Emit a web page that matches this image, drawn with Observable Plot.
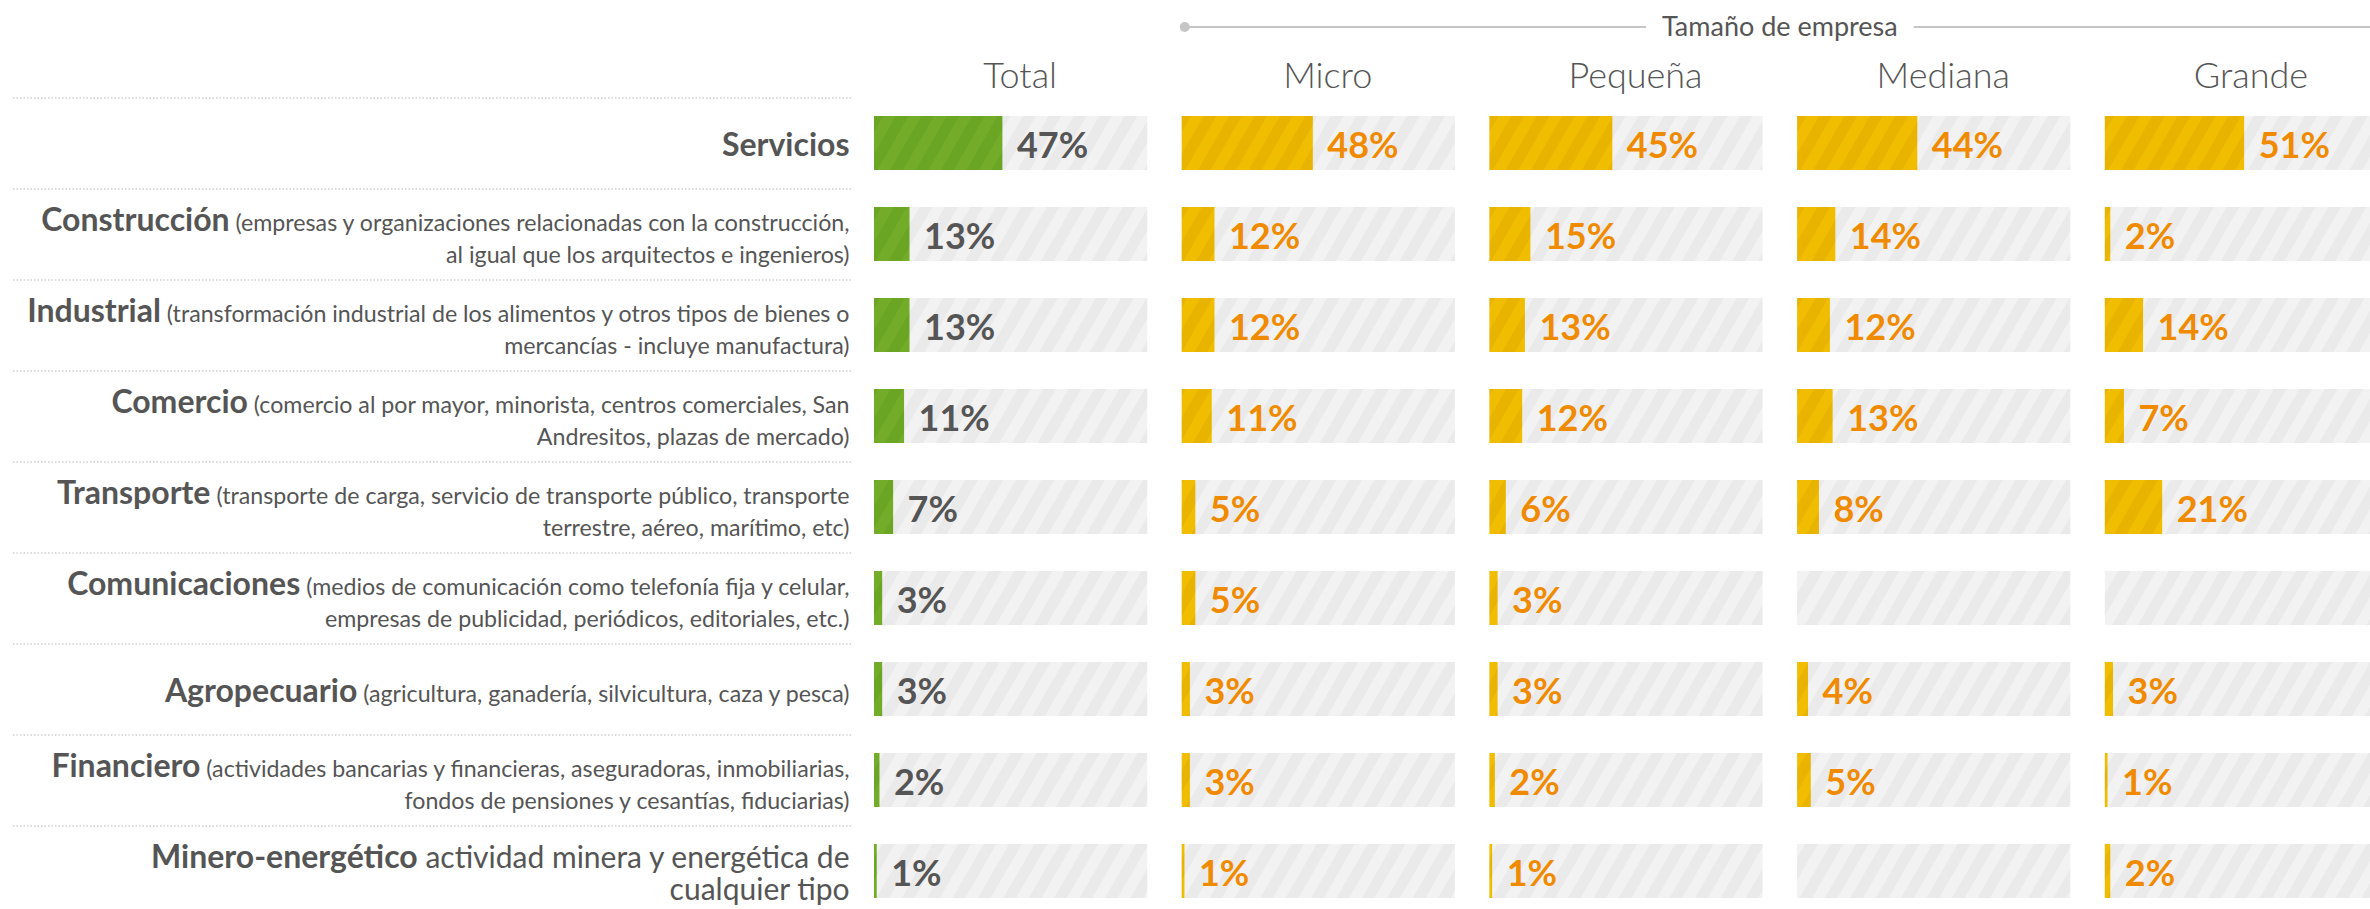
<!DOCTYPE html>
<html><head><meta charset="utf-8">
<script src="https://cdn.jsdelivr.net/npm/d3@7"></script>
<script src="https://cdn.jsdelivr.net/npm/@observablehq/plot@0.6"></script>
<style>
html,body{margin:0;padding:0;background:#fff;overflow:hidden;}
#wrap{position:relative;width:2370px;height:909px;overflow:hidden;font-family:Lato,sans-serif;}
#left{position:absolute;left:0;top:0;width:874px;}
#right{position:absolute;left:874px;top:0;width:1504px;}
#left svg, #right svg{max-width:none;}
svg{font-family:Lato,sans-serif;}
</style></head><body><div id="wrap"><div id="left"></div><div id="right"></div></div>
<script>
const categories = ["Servicios", "Construcción", "Industrial", "Comercio", "Transporte", "Comunicaciones", "Agropecuario", "Financiero", "Minero-energético"];
const descLine1 = [
  "",
  "(empresas y organizaciones relacionadas con la construcción,",
  "(transformación industrial de los alimentos y otros tipos de bienes o",
  "(comercio al por mayor, minorista, centros comerciales, San",
  "(transporte de carga, servicio de transporte público, transporte",
  "(medios de comunicación como telefonía fija y celular,",
  "(agricultura, ganadería, silvicultura, caza y pesca)",
  "(actividades bancarias y financieras, aseguradoras, inmobiliarias,",
  "actividad minera y energética de"
];
const descLine2 = [
  "",
  "al igual que los arquitectos e ingenieros)",
  "mercancías - incluye manufactura)",
  "Andresitos, plazas de mercado)",
  "terrestre, aéreo, marítimo, etc)",
  "empresas de publicidad, periódicos, editoriales, etc.)",
  "",
  "fondos de pensiones y cesantías, fiduciarias)",
  "cualquier tipo"
];
const columns = ["Total", "Micro", "Pequeña", "Mediana", "Grande"];
const totalValues   = [47, 13, 13, 11, 7, 3, 3, 2, 1];
const microValues   = [48, 12, 12, 11, 5, 5, 3, 3, 1];
const pequenaValues = [45, 15, 13, 12, 6, 3, 3, 2, 1];
const medianaValues = [44, 14, 12, 13, 8, null, 4, 5, null];
const grandeValues  = [51, 2, 14, 7, 21, null, 3, 1, 2];
const groupLabel = "Tamaño de empresa";

const seriesByColumn = [totalValues, microValues, pequenaValues, medianaValues, grandeValues];
const table = columns.flatMap((col, j) => categories.map((cat, i) => ({col, cat, value: seriesByColumn[j][i]})));
const present = table.filter(d => d.value != null);
const rows = categories.map((c, i) => ({cat: c, d1: descLine1[i], d2: descLine2[i]}));

const H = 916, TOP = 97;
const yOpts = () => ({domain: categories, paddingInner: 0.4066, paddingOuter: 0.2033, axis: null});
const GRAY = "#555555", ORANGE = "#f08a00";

// Left label panel
const left = Plot.plot({
  width: 874, height: H, marginTop: TOP, marginBottom: 0, marginLeft: 13, marginRight: 21,
  y: yOpts(),
  marks: [
    Plot.ruleY(categories, {y: d => d, dy: -45.5, stroke: "#cfcfcf", strokeWidth: 1.5, strokeDasharray: "1.5 2"}),
    Plot.text(rows, {
      y: "cat",
      text: d => [d.cat + (d.d1 ? " " + d.d1 : ""), d.d2].filter(Boolean).join("\n"),
      frameAnchor: "right", textAnchor: "end", lineAnchor: "middle", lineHeight: 1.38,
      fontSize: 23.2, fill: GRAY, dx: -4, dy: 2
    })
  ]
});
document.getElementById("left").append(left);
d3.select(left).selectAll('g[aria-label="text"] text').each(function (i) {
  const r = rows[i];
  const big = r.d1 && !r.d1.startsWith("(");
  const lines = this.querySelectorAll(":scope > tspan");
  const first = lines.length ? lines[0] : this;
  first.textContent = "";
  const s = d3.select(first);
  s.append("tspan").attr("font-weight", 700).attr("font-size", 32).text(r.cat);
  if (r.d1) s.append("tspan").attr("font-size", big ? 30 : 23.2).text(" " + r.d1);
  if (big && lines.length > 1) {
    const l2 = lines[1];
    const t = l2.textContent;
    l2.textContent = "";
    d3.select(l2).append("tspan").attr("font-size", 30).text(t);
  }
});

// Bars panel
const right = Plot.plot({
  width: 1504, height: H, marginTop: TOP, marginBottom: 0, marginLeft: 0, marginRight: 0,
  fx: {domain: columns, paddingInner: 0.1122, paddingOuter: 0, round: false, axis: null},
  x: {domain: [0, 100], axis: null},
  y: yOpts(),
  marks: [
    Plot.barX(table, {fx: "col", y: "cat", x1: d => 0, x2: d => 100, fill: "url(#st-gray)"}),
    Plot.barX(present.filter(d => d.col === "Total"), {fx: "col", y: "cat", x1: d => 0, x2: "value", fill: "url(#st-green)"}),
    Plot.barX(present.filter(d => d.col !== "Total"), {fx: "col", y: "cat", x1: d => 0, x2: "value", fill: "url(#st-yellow)"}),
    Plot.text(present.filter(d => d.col === "Total"), {fx: "col", y: "cat", x: "value", text: d => d.value + "%", dx: 14, dy: 3, textAnchor: "start", fontSize: 36, fontWeight: 700, fill: GRAY}),
    Plot.text(present.filter(d => d.col !== "Total"), {fx: "col", y: "cat", x: "value", text: d => d.value + "%", dx: 14, dy: 3, textAnchor: "start", fontSize: 36, fontWeight: 700, fill: ORANGE}),
    Plot.text(columns, {fx: d => d, text: d => d, frameAnchor: "top", lineAnchor: "bottom", dy: -10, dx: 9, fontSize: 36, fontWeight: 300, fill: GRAY})
  ]
});
document.getElementById("right").append(right);

// stripe patterns
const defs = d3.select(right).insert("defs", ":first-child");
function stripe(id, a, b) {
  const p = defs.append("pattern").attr("id", id).attr("patternUnits", "userSpaceOnUse")
    .attr("width", 22).attr("height", 22).attr("patternTransform", "rotate(30)");
  p.append("rect").attr("width", 22).attr("height", 22).attr("fill", a);
  p.append("rect").attr("width", 11).attr("height", 22).attr("fill", b);
}
stripe("st-gray", "#eaeaea", "#f2f2f2");
stripe("st-green", "#6aa524", "#72ac28");
stripe("st-yellow", "#e9b400", "#f0bd00");

// group header over size columns
const fx = right.scale("fx");
const x0 = fx.apply("Micro"), x1 = fx.apply("Grande") + fx.bandwidth;
const cx = (x0 + x1) / 2, gy = 27;
const g = d3.select(right).append("g");
const t = g.append("text").attr("x", cx).attr("y", gy).attr("dy", "0.33em").attr("text-anchor", "middle")
  .attr("font-size", 27).attr("fill", GRAY).text(groupLabel);
const w = t.node().getComputedTextLength();
g.append("line").attr("x1", x0 + 3).attr("x2", cx - w / 2 - 16).attr("y1", gy).attr("y2", gy).attr("stroke", "#c6c6c6").attr("stroke-width", 2);
g.append("line").attr("x1", cx + w / 2 + 16).attr("x2", x1).attr("y1", gy).attr("y2", gy).attr("stroke", "#c6c6c6").attr("stroke-width", 2);
g.append("circle").attr("cx", x0 + 3).attr("cy", gy).attr("r", 5).attr("fill", "#c6c6c6");
</script></body></html>
